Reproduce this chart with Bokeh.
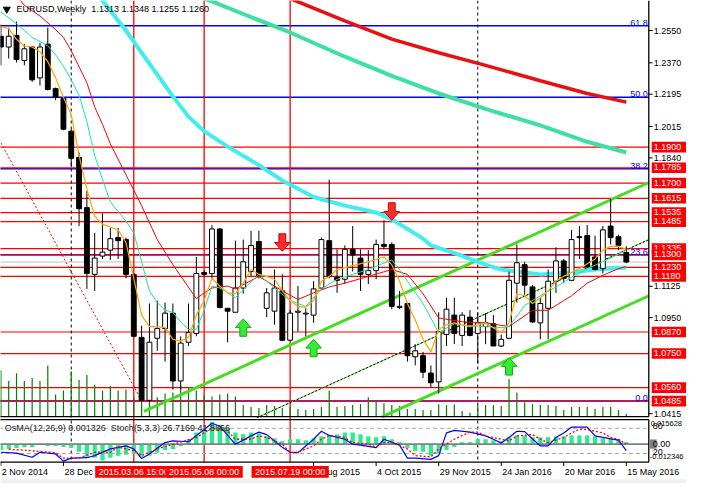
from bokeh.plotting import figure
from bokeh.models import Range1d
from bokeh.core.properties import value
from bokeh.embed import file_html
from bokeh.resources import INLINE

# EURUSD weekly bars, bar 0 = 2 Nov 2014 ... bar 80 = 15 May 2016
opens = [1.2518, 1.2458, 1.2523, 1.2383, 1.2458, 1.2286, 1.2474, 1.2226, 1.2172, 1.1989,
         1.1843, 1.1563, 1.1191, 1.1293, 1.1326, 1.1396, 1.1385, 1.1191, 1.0840, 1.0489,
         1.0835, 1.0889, 1.0975, 1.0597, 1.0813, 1.0862, 1.1201, 1.1196, 1.1444, 1.1002,
         1.0980, 1.1115, 1.1207, 1.1374, 1.1002, 1.0986, 1.1099, 1.0824, 1.0980, 1.0970,
         1.0964, 1.1115, 1.1379, 1.1175, 1.1164, 1.1331, 1.1282, 1.1191, 1.1212, 1.1358,
         1.1358, 1.1007, 1.1029, 1.0732, 1.0738, 1.0641, 1.0592, 1.0856, 1.0964, 1.0851,
         1.0953, 1.0862, 1.0900, 1.0916, 1.0792, 1.0835, 1.1142, 1.1245, 1.1121, 1.0921,
         1.1002, 1.1153, 1.1266, 1.1158, 1.1401, 1.1407, 1.1288, 1.1223, 1.1460, 1.1401,
         1.1313]
highs = [1.2582, 1.2566, 1.2599, 1.2474, 1.2464, 1.2480, 1.2566, 1.2232, 1.2178, 1.2000,
         1.1870, 1.1655, 1.1423, 1.1531, 1.1450, 1.1450, 1.1396, 1.1196, 1.0905, 1.1029,
         1.1045, 1.1034, 1.1029, 1.0846, 1.1029, 1.1288, 1.1212, 1.1466, 1.1450, 1.1002,
         1.1379, 1.1385, 1.1434, 1.1434, 1.1115, 1.1218, 1.1191, 1.0992, 1.1126, 1.1002,
         1.1153, 1.1396, 1.1719, 1.1331, 1.1353, 1.1460, 1.1331, 1.1326, 1.1385, 1.1493,
         1.1369, 1.1099, 1.1034, 1.0802, 1.0759, 1.0684, 1.0980, 1.1061, 1.1061, 1.0980,
         1.0992, 1.0980, 1.0975, 1.0964, 1.0856, 1.1207, 1.1358, 1.1261, 1.1131, 1.1061,
         1.1218, 1.1342, 1.1277, 1.1439, 1.1460, 1.1466, 1.1407, 1.1460, 1.1611, 1.1412,
         1.1348]
lows = [1.2356, 1.2394, 1.2372, 1.2356, 1.2264, 1.2243, 1.2216, 1.2162, 1.1994, 1.1789,
        1.1460, 1.1110, 1.1099, 1.1277, 1.1272, 1.1277, 1.1169, 1.0840, 1.0484, 1.0479,
        1.0765, 1.0705, 1.0549, 1.0549, 1.0792, 1.0846, 1.1180, 1.1169, 1.1002, 1.0813,
        1.0980, 1.1083, 1.1180, 1.1169, 1.0953, 1.0910, 1.0819, 1.0819, 1.0872, 1.0846,
        1.0921, 1.1110, 1.1169, 1.1088, 1.1137, 1.1207, 1.1099, 1.1137, 1.1164, 1.1331,
        1.0997, 1.0997, 1.0705, 1.0684, 1.0614, 1.0560, 1.0527, 1.0792, 1.0802, 1.0792,
        1.0846, 1.0694, 1.0802, 1.0792, 1.0786, 1.0829, 1.1034, 1.1077, 1.0921, 1.0829,
        1.0829, 1.1088, 1.1142, 1.1153, 1.1277, 1.1223, 1.1212, 1.1196, 1.1358, 1.1326,
        1.1255]
closes = [1.2458, 1.2518, 1.2388, 1.2448, 1.2275, 1.2458, 1.2221, 1.2178, 1.2000, 1.1838,
          1.1557, 1.1196, 1.1282, 1.1315, 1.1390, 1.1379, 1.1191, 1.0846, 1.0489, 1.0813,
          1.0889, 1.0975, 1.0597, 1.0808, 1.0867, 1.1196, 1.1191, 1.1444, 1.1007, 1.0986,
          1.1115, 1.1261, 1.1352, 1.1180, 1.1088, 1.1115, 1.0824, 1.0975, 1.0986, 1.0975,
          1.1110, 1.1385, 1.1180, 1.1158, 1.1331, 1.1299, 1.1191, 1.1212, 1.1358, 1.1347,
          1.1013, 1.1013, 1.0738, 1.0765, 1.0646, 1.0587, 1.0872, 1.0997, 1.0862, 1.0964,
          1.0851, 1.0921, 1.0921, 1.0792, 1.0829, 1.1158, 1.1256, 1.1131, 1.0926, 1.1029,
          1.1153, 1.1266, 1.1169, 1.1385, 1.1396, 1.1234, 1.1218, 1.1439, 1.1396, 1.1353,
          1.1260]
# tick volume, thousands
tick_volume = [96, 74, 90, 74, 80, 74, 106, 46, 54, 94, 76, 86, 66, 54, 64, 54, 56, 40, 88, 82,
               40, 48, 50, 64, 60, 54, 44, 42, 46, 48, 42, 24, 20, 18, 24, 22, 18, 20, 16, 14,
               16, 20, 54, 20, 22, 24, 26, 40, 32, 28, 24, 22, 16, 16, 14, 14, 26, 24, 26, 12,
               8, 24, 24, 24, 22, 78, 50, 30, 26, 24, 24, 22, 14, 20, 20, 20, 16, 20, 20, 14, 6]

# moving averages (bar index, price)
ma_red_thick_bar = [35, 37, 44, 50, 56, 62, 69, 75, 80]
ma_red_thick = [1.2760, 1.2728, 1.2604, 1.2502, 1.2426, 1.2356, 1.2270, 1.2199, 1.2151]
ma_green_thick_bar = [25, 27, 31, 37, 44, 50, 56, 62, 69, 75, 80]
ma_green_thick = [1.2745, 1.2712, 1.2642, 1.2539, 1.2404, 1.2297, 1.2199, 1.2113, 1.2021, 1.1930, 1.1870]
ma_cyan_bar = [12, 16, 18, 22, 24, 26, 29, 33, 36, 40, 44, 48, 50, 54, 55, 58, 62, 64, 69, 73, 76, 80]
ma_cyan = [1.2771, 1.2550, 1.2426, 1.2183, 1.2070, 1.1989, 1.1903, 1.1800, 1.1714, 1.1622, 1.1574,
           1.1536, 1.1498, 1.1390, 1.1353, 1.1310, 1.1245, 1.1218, 1.1191, 1.1202, 1.1218, 1.1229]
ma_red_bar = [2, 3, 5, 7, 8, 9, 11, 12, 13, 14, 16, 18, 20, 22, 25, 26, 27, 29, 30, 33, 36,
              38, 40, 42, 44, 47, 50, 52, 54, 56, 59, 62, 65, 68, 70, 73, 75, 77, 79, 80]
ma_red = [1.2744, 1.2690, 1.2631, 1.2555, 1.2512, 1.2437, 1.2259, 1.2124, 1.2027, 1.1919, 1.1746,
          1.1574, 1.1385, 1.1245, 1.1056, 1.1088, 1.1115, 1.1126, 1.1110, 1.1180, 1.1099,
          1.1051, 1.1088, 1.1121, 1.1142, 1.1180, 1.1218, 1.1191, 1.1083, 1.0948, 1.0927,
          1.0921, 1.0900, 1.0991, 1.0991, 1.1072, 1.1142, 1.1186, 1.1223, 1.1234]
ma_teal_bar = [0, 1, 2, 4, 6, 7, 8, 9, 10, 11, 12, 13, 14, 16, 17, 18, 19, 20, 21, 22,
               23, 24, 25, 26, 27, 28, 30, 33, 35, 37, 39, 41, 43, 45, 47, 50, 51, 52, 54, 56,
               58, 60, 62, 64, 65, 67, 69, 71, 73, 75, 77, 79, 80]
ma_teal = [1.2653, 1.2620, 1.2588, 1.2512, 1.2464, 1.2415, 1.2350, 1.2275, 1.2189, 1.2043,
           1.1854, 1.1719, 1.1595, 1.1487, 1.1423, 1.1261, 1.1099, 1.1034, 1.0991, 1.0980,
           1.0926, 1.0884, 1.0884, 1.0991, 1.1126, 1.1115, 1.1061, 1.1191, 1.1115, 1.1045,
           1.1013, 1.1110, 1.1164, 1.1191, 1.1218, 1.1272, 1.1218, 1.1153, 1.1029, 1.0867,
           1.0916, 1.0905, 1.0900, 1.0894, 1.0900, 1.1018, 1.1072, 1.1121, 1.1175, 1.1223,
           1.1261, 1.1304, 1.1326]
ma_orange_bar = list(range(0, 46)) + [47] + list(range(49, 81))
ma_orange = [1.2572, 1.2561, 1.2501, 1.2464, 1.2458, 1.2431, 1.2377, 1.2286, 1.2178, 1.2081,
             1.1854, 1.1666, 1.1514, 1.1471, 1.1455, 1.1439, 1.1369, 1.1169, 1.0964, 1.0900,
             1.0900, 1.0894, 1.0829, 1.0819, 1.0840, 1.0964, 1.1045, 1.1169, 1.1126, 1.1088,
             1.1083, 1.1142, 1.1218, 1.1191, 1.1180, 1.1164, 1.1099, 1.1045, 1.1013, 1.1007,
             1.1045, 1.1153, 1.1180, 1.1218, 1.1229, 1.1240,
             1.1261,
             1.1288, 1.1245, 1.1153, 1.1029, 1.0937, 1.0829, 1.0759, 1.0884, 1.0910, 1.0921,
             1.0910, 1.0900, 1.0910, 1.0921, 1.0894, 1.0867, 1.0921, 1.1083, 1.1072, 1.1029,
             1.1061, 1.1099, 1.1153, 1.1180, 1.1202, 1.1223, 1.1250, 1.1277, 1.1326, 1.1347,
             1.1347, 1.1331]

# OsMA(12,26,9) per bar, Stoch(5,3,3) main and signal
osma = [-0.0038, -0.0032, -0.0025, -0.0019, -0.0019, -0.0006, -0.0013, -0.0013, -0.0019, -0.0025,
        -0.0051, -0.0083, -0.0089, -0.0108, -0.0089, -0.0076, -0.0070, -0.0064, -0.0083, -0.0076,
        -0.0057, -0.0038, -0.0032, -0.0013, 0.0032, 0.0076, 0.0089, 0.0146, 0.0127, 0.0108,
        0.0076, 0.0064, 0.0076, 0.0070, 0.0051, 0.0038, 0.0019, 0.0032, 0.0032, 0.0025,
        0.0038, 0.0051, 0.0057, 0.0064, 0.0076, 0.0076, 0.0064, 0.0051, 0.0045, 0.0051,
        0.0032, 0.0013, -0.0025, -0.0045, -0.0051, -0.0076, -0.0064, -0.0038, -0.0019, 0.0013,
        0.0013, 0.0032, 0.0032, 0.0025, 0.0019, 0.0045, 0.0057, 0.0057, 0.0045, 0.0045,
        0.0045, 0.0051, 0.0051, 0.0057, 0.0057, 0.0057, 0.0051, 0.0038, 0.0038, 0.0032,
        0.0013]
stoch_main_bar = [0, 2, 4, 5, 7, 8, 9, 11, 12, 14, 16, 17, 18, 19, 21, 22, 24, 26, 27, 28,
                  30, 32, 33, 34, 36, 37, 38, 40, 41, 42, 44, 45, 46, 48, 49, 51, 52, 53, 55, 56,
                  57, 58, 60, 62, 63, 64, 65, 66, 67, 69, 70, 71, 72, 73, 75, 76, 78, 79, 80]
stoch_main = [23, 21, 11, 23, 19, 2, 9, 10, 15, 31, 38, 31, 8, 19, 46, 50, 48, 77, 92, 85,
              42, 62, 71, 65, 35, 23, 22, 54, 73, 63, 54, 42, 40, 34, 54, 40, 9, 9, 6, 15,
              69, 75, 71, 62, 54, 45, 58, 73, 72, 38, 38, 58, 69, 83, 83, 62, 55, 52, 26.7]
stoch_sig_bar = [1, 3, 5, 7, 8, 10, 12, 14, 15, 17, 18, 20, 22, 25, 26, 27, 29, 30, 32, 33,
                 34, 36, 37, 38, 40, 41, 42, 44, 45, 47, 48, 49, 50, 52, 53, 55, 56, 58, 60, 61,
                 62, 64, 65, 66, 68, 69, 70, 72, 73, 74, 75, 77, 78, 79, 80]
stoch_sig = [30, 28, 25, 22, 9, 9, 23, 23, 35, 27, 15, 31, 42, 58, 69, 81, 73, 54, 54, 62,
             58, 42, 23, 23, 38, 54, 63, 58, 46, 42, 35, 46, 46, 31, 15, 12, 31, 54, 71, 71,
             62, 54, 50, 62, 65, 54, 46, 58, 69, 78, 77, 69, 58, 54, 41.9]

# objects on the chart
levels = [1.1900, 1.1785, 1.1700, 1.1615, 1.1535, 1.1485, 1.1335, 1.1300,
          1.1230, 1.1180, 1.0870, 1.0750, 1.0560, 1.0485]
fibo_levels = [1.2577, 1.2178, 1.1779, 1.1300, 1.0485]
fibo_names = ["61.8", "50.0", "38.2", "23.6", "0.0"]
trend_bar = [0, 18.1]
trend_price = [1.1924, 1.0479]
chan_up_bar, chan_up = [18.3, 82.9], [1.0428, 1.1703]
chan_low_bar, chan_low = [48.75, 82.9], [1.0397, 1.1072]
chan_mid_bar, chan_mid = [32.75, 82.9], [1.0392, 1.1385]
up_arrow_bar, up_arrow = [31, 40, 65], [1.0943, 1.0829, 1.0727]
down_arrow_bar, down_arrow = [36, 50], [1.1320, 1.1493]
vline_bar = [17, 26, 37]
vline_text = ["2015.03.06 15:00", "2015.05.08 00:00", "2015.07.19 00:00"]
separator_bar = [9, 61]
price_ticks = [1.2550, 1.2370, 1.2195, 1.2015, 1.1840, 1.1125, 1.0950, 1.0415]
date_bar = [0, 8, 40, 48, 56, 64, 72, 80]
date_text = ["2 Nov 2014", "28 Dec 2014", "9 Aug 2015", "4 Oct 2015", "29 Nov 2015",
             "24 Jan 2016", "20 Mar 2016", "15 May 2016"]

# layout: positions measured in pixels of the 702x499 terminal window
PX = 1854.0               # pixels per 1.0 of price
TOP = 1.2550 + 31 / PX    # price at the top edge


def py(r):
    return TOP - r / PX


def bx(r):
    return r / 8.0


FONT = value("Liberation Sans")
FS = "9px"
R = bx(663)  # right edge of the chart panes

p = figure(width=686, height=483, output_backend="svg", toolbar_location=None,
           x_range=Range1d(bx(-0.4), bx(701.6)), y_range=Range1d(py(499), py(0)),
           x_axis_location=None, y_axis_location=None, min_border=0,
           outline_line_color=None, background_fill_color="white")
p.grid.visible = False
p.extra_y_ranges = {
    "vol": Range1d(-(499 - 430) * 2, 430 * 2),
    "osma": Range1d(-(499 - 458.3) / 1573.0, 458.3 / 1573.0),
    "stoch": Range1d(-(499 - 476.7) / 0.434, 476.7 / 0.434),
}

# horizontal objects
p.segment(x0=bx(-2), x1=R, y0=fibo_levels, y1=fibo_levels, color="#0000FF", line_width=1.5)
p.segment(x0=bx(-2), x1=R, y0=levels, y1=levels, color="#FF0000", line_width=1.2)
p.segment(x0=bx(-2), x1=R, y0=closes[-1], y1=closes[-1], color="#C0C0C0", line_width=1)

# vertical lines through both panes
p.segment(x0=vline_bar, x1=vline_bar, y0=py(0), y1=py(477), color="#FF0000", line_width=1.3)
p.segment(x0=separator_bar, x1=separator_bar, y0=py(0), y1=py(477), color="black",
          line_width=1, line_dash="3 3")

# volumes
bars = list(range(len(closes)))
p.segment(x0=bars, x1=bars, y0=0, y1=tick_volume, y_range_name="vol", color="#008000",
          line_width=1.2)

# trend lines and channel
p.line(trend_bar, trend_price, color="#FF0000", line_width=1, line_dash="2 2")
p.line(chan_up_bar, chan_up, color="#44DD22", line_width=3)
p.line(chan_low_bar, chan_low, color="#44DD22", line_width=3)
p.line(chan_mid_bar, chan_mid, color="#44DD22", line_width=1)
p.line(chan_mid_bar, chan_mid, color="black", line_width=1, line_dash="2 2")

# slow averages
p.line(ma_red_thick_bar, ma_red_thick, color="#E81010", line_width=3.5)
p.line(ma_green_thick_bar, ma_green_thick, color="#3CE0A0", line_width=4)
p.line(ma_cyan_bar, ma_cyan, color="#40EEF0", line_width=4)

# candles
up = [c >= o for o, c in zip(opens, closes)]
p.segment(x0=bars, x1=bars, y0=lows, y1=highs, color="black", line_width=1)
p.vbar(x=bars, top=[max(o, c) for o, c in zip(opens, closes)],
       bottom=[min(o, c) for o, c in zip(opens, closes)], width=0.62,
       fill_color=["white" if u else "black" for u in up], line_color="black", line_width=1)

# fast averages
p.line(ma_red_bar, ma_red, color="#FF0000", line_width=1)
p.line(ma_teal_bar, ma_teal, color="#19E6A0", line_width=1)
p.line(ma_orange_bar, ma_orange, color="#FFA500", line_width=1.2)

# arrows
up_shape = [(0, 0), (8, 9), (3.5, 9), (3.5, 18), (-3.5, 18), (-3.5, 9), (-8, 9)]
p.patches([[b + dx / 8 for dx, dy in up_shape] for b in up_arrow_bar],
          [[v - dy / PX for dx, dy in up_shape] for v in up_arrow],
          fill_color="#33EE33", line_color="#11AA11", line_width=1)
p.patches([[b + dx / 8 for dx, dy in up_shape] for b in down_arrow_bar],
          [[v + dy / PX for dx, dy in up_shape] for v in down_arrow],
          fill_color="#FF2A2A", line_color="#CC0000", line_width=1)

# fibo labels
p.text(x=[bx(662)] * len(fibo_names), y=fibo_levels, text=fibo_names, text_align="right",
       text_baseline="bottom", text_color="#0000FF", text_font=FONT, text_font_size=FS)

# ---- indicator pane ----
p.vbar(x=bars, top=osma, bottom=0, width=0.55, y_range_name="osma",
       fill_color="#27EE8A", line_color=None)
p.segment(x0=bx(-2), x1=R, y0=0, y1=0, y_range_name="osma", color="#808080", line_width=1.6)
p.segment(x0=bx(-2), x1=R, y0=[80, 20], y1=[80, 20], y_range_name="stoch",
          color="#A8A8A8", line_width=1, line_dash="4 3")
p.line(stoch_main_bar, stoch_main, y_range_name="stoch", color="#0000FF", line_width=1.2)
p.line(stoch_sig_bar, stoch_sig, y_range_name="stoch", color="#FF0000", line_width=1.3,
       line_dash="2 2")
p.text(x=[bx(4)], y=[py(442)],
       text=["OsMA(12,26,9) 0.001326 \u00a0Stoch(5,3,3) 26.7169 41.8666"],
       text_baseline="middle", text_color="#202020", text_font=FONT, text_font_size=FS)

# pane frames
p.segment(x0=[bx(-2), bx(-2), bx(-2)], x1=[R, R, R], y0=[py(430), py(433), py(477)],
          y1=[py(430), py(433), py(477)], color="black", line_width=1.3)
p.segment(x0=[R, R], x1=[R, R], y0=[py(0), py(433)], y1=[py(430), py(477)],
          color="black", line_width=1.3)

# price scale
p.segment(x0=R, x1=bx(667), y0=price_ticks, y1=price_ticks, color="black", line_width=1)
p.text(x=[bx(668)] * len(price_ticks), y=price_ticks,
       text=["%.4f" % t for t in price_ticks], text_baseline="middle",
       text_color="black", text_font=FONT, text_font_size=FS)
for v in levels:
    p.quad(left=bx(666), right=bx(703), top=v + 5.5 / PX, bottom=v - 5.5 / PX,
           fill_color="#FF0000", line_color=None)
    p.text(x=[bx(668)], y=[v + 0.5 / PX], text=["%.4f" % v], text_baseline="middle",
           text_color="white", text_font=FONT, text_font_size=FS)

# indicator scale
p.quad(left=bx(664), right=bx(671), top=py(453.5), bottom=py(463), fill_color="#808080",
       line_color=None)
p.text(x=[bx(667), bx(667), bx(667)], y=[py(440), py(458), py(466)],
       text=["80", "0.00", "20"], text_baseline="middle",
       text_color="black", text_font=FONT, text_font_size=FS)
p.text(x=[bx(665), bx(664)], y=[py(437), py(471)], text=["0.015628", "-0.012346"],
       text_baseline="middle", text_color="black", text_font=FONT, text_font_size="7.5px")

# time scale
p.segment(x0=date_bar, x1=date_bar, y0=py(477), y1=py(481), color="black", line_width=1)
p.text(x=[b + bx(1) for b in date_bar], y=[py(487)] * len(date_bar), text=date_text,
       text_baseline="middle", text_color="black", text_font=FONT, text_font_size=FS)
for b, t in zip(vline_bar, vline_text):
    p.quad(left=b - bx(39.5), right=b + bx(39.5), top=py(481), bottom=py(493),
           fill_color="#FF0000", line_color=None)
    p.text(x=[b], y=[py(487)], text=[t], text_align="center", text_baseline="middle",
           text_color="white", text_font=FONT, text_font_size=FS)
p.quad(left=bx(-2), right=bx(703), top=py(494.5), bottom=py(499), fill_color="#F0F0F0",
       line_color=None)

# title
p.scatter(x=[bx(6)], y=[py(9)], marker="inverted_triangle", size=7, color="black")
p.text(x=[bx(16)], y=[py(9)],
       text=["EURUSD,Weekly \u00a0%.4f %.4f %.4f %.4f" % (opens[-1], highs[-1], lows[-1], closes[-1])],
       text_baseline="middle", text_color="black", text_font=FONT, text_font_size=FS)

open("out.html", "w").write(file_html(p, INLINE))
